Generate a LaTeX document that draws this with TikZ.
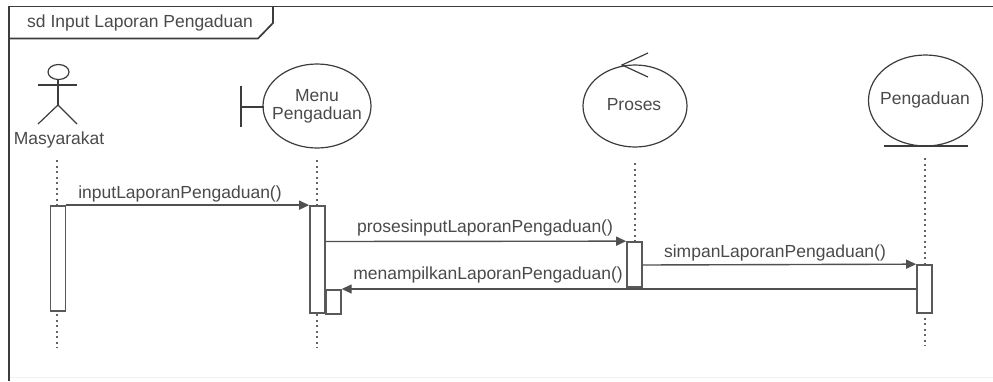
\documentclass[tikz,border=0pt]{standalone}
\usepackage{fontspec}
\setmainfont{Liberation Sans}
\usetikzlibrary{arrows.meta,shapes.geometric}
\definecolor{ink}{HTML}{3C3C3C}
\definecolor{txt}{HTML}{4A4A4A}
\tikzset{
  x=1pt,y=-1pt,
  shp/.style={line width=1.2pt,draw=ink},
  framel/.style={line width=1.7pt,draw=ink},
  lbl/.style={inner sep=0pt,text=txt,font=\fontsize{17.5}{18}\selectfont,align=center},
  life/.style={line width=2.2pt,draw=ink!80,dash pattern=on 2pt off 3.5pt},
  act/.style={draw=ink!85,fill=white,line width=1.7pt,inner sep=0pt},
  msg/.style={line width=1.4pt,draw=ink!90,-{Triangle[length=10pt,width=9pt]}},
}
\begin{document}
\begin{tikzpicture}
\useasboundingbox (0,0) rectangle (993,381);
% frame
\coordinate (fTL) at (9,6.5);
\coordinate (fTR) at (993,6.5);
\coordinate (fBL) at (9,381);
\coordinate (fBR) at (993,377);
\coordinate (fBM) at (9,377);
\draw[line width=1pt,draw=black!6] (fBM) -- (fBR);
\draw[framel] (fBL) -- (fTL) -- (fTR);
\coordinate (tabA) at (273,6.5);
\coordinate (tabB) at (273,23);
\coordinate (tabC) at (258,38.5);
\coordinate (tabD) at (9,38.5);
\draw[framel] (tabA) -- (tabB) -- (tabC) -- (tabD);
\node[lbl,anchor=west] (title) at (27,23) {sd Input Laporan Pengaduan};
% actor
\draw[shp] (58.5,72) circle [x radius=10.5,y radius=7.5];
\coordinate (aN) at (58,79.5);
\coordinate (aW) at (58,105);
\draw[shp] (aN) -- (aW);
\coordinate (aAL) at (38,85);
\coordinate (aAR) at (77,85);
\draw[shp] (aAL) -- (aAR);
\coordinate (aLL) at (38,124);
\coordinate (aLR) at (77,124);
\draw[shp] (aLL) -- (aW) -- (aLR);
\node[lbl] (masy) at (59,140) {Masyarakat};
% boundary
\draw[shp] (317,106) circle [x radius=54,y radius=42];
\node[lbl] (menu) at (317,106.5) {Menu\\Pengaduan};
\coordinate (bL) at (241,107);
\coordinate (bE) at (263.5,107);
\draw[shp] (bL) -- (bE);
\coordinate (bT) at (241,86);
\coordinate (bB) at (241,127);
\draw[shp] (bT) -- (bB);
% control
\draw[shp] (635,106) circle [x radius=52,y radius=41];
\node[lbl] (pros) at (634,105) {Proses};
\coordinate (cA) at (622,65);
\coordinate (cU) at (648,53);
\coordinate (cD) at (648,77);
\draw[shp] (cU) -- (cA) -- (cD);
% entity
\draw[shp] (925.5,100.5) circle [x radius=57,y radius=45.5];
\node[lbl] (peng) at (925,100) {Pengaduan};
\coordinate (eL) at (884,146);
\coordinate (eR) at (968,146);
\draw[shp] (eL) -- (eR);
% lifelines
\coordinate (l1a) at (57,160); \coordinate (l1b) at (57,348);
\coordinate (l2a) at (317,160); \coordinate (l2b) at (317,348);
\coordinate (l3a) at (635,163); \coordinate (l3b) at (635,287);
\coordinate (l4a) at (925,158); \coordinate (l4b) at (925,346);
\draw[life] (l1a) -- (l1b);
\draw[life] (l2a) -- (l2b);
\draw[life] (l3a) -- (l3b);
\draw[life] (l4a) -- (l4b);
% activations
\node[act,minimum width=15pt,minimum height=105pt] (a1) at (58,258.5) {};
\node[act,minimum width=15pt,minimum height=24pt,anchor=north west] (a2b) at (325,289) {};
\node[act,minimum width=15pt,minimum height=107pt] (a2) at (317.5,259.5) {};
\node[act,minimum width=15pt,minimum height=45pt] (a3) at (634.5,264.5) {};
\node[act,minimum width=15pt,minimum height=48pt] (a4) at (924.5,289) {};
% messages
\draw[msg] (a1.north east) -- (a2.north west);
\node[lbl] (m1) at (180,194) {inputLaporanPengaduan()};
\coordinate (m2s) at (a2.east |- 0,241.5);
\draw[msg] (m2s) -- (a3.north west);
\node[lbl] (m2) at (485,228) {prosesinputLaporanPengaduan()};
\coordinate (m3s) at (a3.east |- 0,265);
\draw[msg] (m3s) -- (a4.north west);
\node[lbl] (m3) at (775,253) {simpanLaporanPengaduan()};
\coordinate (m4s) at (a4.west |- 0,289);
\draw[msg] (m4s) -- (a2b.north east);
\node[lbl] (m4) at (488,275) {menampilkanLaporanPengaduan()};
\end{tikzpicture}
\end{document}
